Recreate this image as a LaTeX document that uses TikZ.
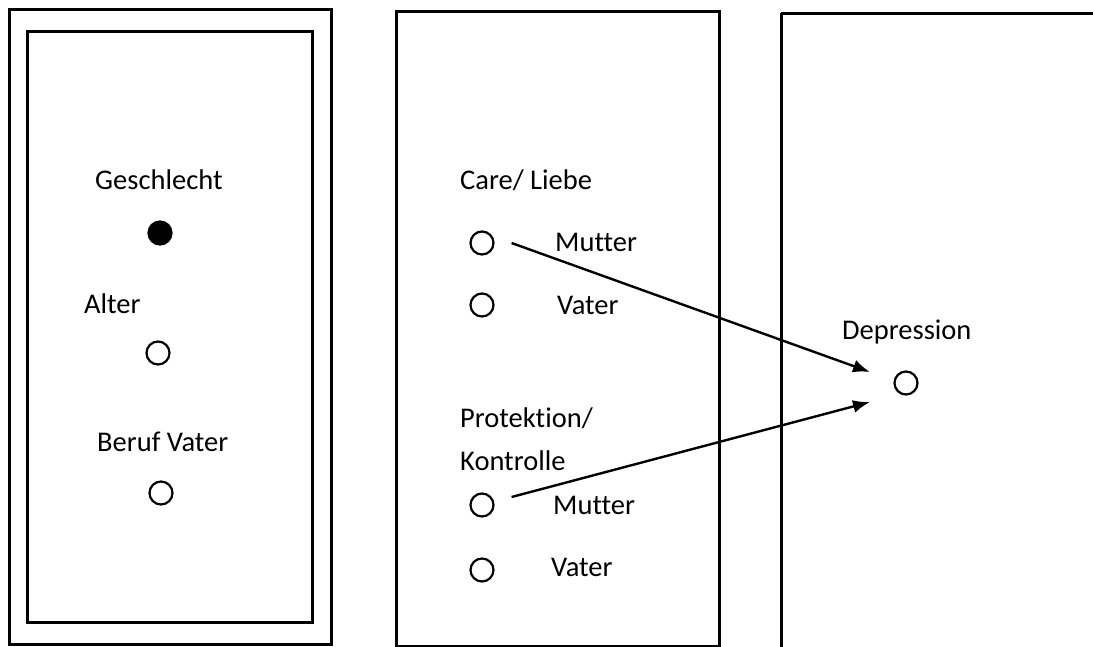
\documentclass[tikz,border=0pt]{standalone}
\usepackage{fontspec}
\setmainfont{Carlito}[Ligatures=NoCommon]
\usetikzlibrary{arrows.meta}

\tikzset{
  frame/.style={draw, line width=3pt},
  item/.style={circle, draw, line width=2.2pt, minimum size=23pt, inner sep=0pt},
  lbl/.style={anchor=base west, inner sep=0pt, font=\fontsize{28.5}{43}\selectfont},
  arr/.style={-{Latex[length=17pt,width=13pt]}, line width=2.4pt}
}

\begin{document}
\begin{tikzpicture}[x=1pt, y=-1pt]
\useasboundingbox (0,0) rectangle (1093,646);
\clip (0,0) rectangle (1093,646);
% covariates
\draw[frame] (9,9) rectangle (331,644);
\draw[frame] (27,31) rectangle (312,622);
\node[lbl] (geschlecht) at (95,189) {Geschlecht};
\node[item, fill=black] (g) at (160,233) {};
\node[lbl] (alter) at (84,313) {Alter};
\node[item] (a) at (158,353) {};
\node[lbl] (beruf) at (97,451) {Beruf Vater};
\node[item] (b) at (161,493) {};
% parenting
\draw[frame] (396,11) rectangle (719,646);
\node[lbl] (care) at (460,189) {Care/ Liebe};
\node[item] (cm) at (482,243) {};
\node[lbl] (cmtxt) at (555,251) {Mutter};
\node[item] (cv) at (482,305) {};
\node[lbl] (cvtxt) at (557,314) {Vater};
\node[lbl, align=left] (prot) at (460,470) {Protektion/\\Kontrolle};
\node[item] (pm) at (482,505) {};
\node[lbl] (pmtxt) at (553,514) {Mutter};
\node[item] (pv) at (482,570) {};
\node[lbl] (pvtxt) at (551,576) {Vater};
% outcome
\draw[frame] (781,13) -- (1100,13);
\draw[frame] (781,13) -- (781,660);
\node[lbl] (deptxt) at (842,339) {Depression};
\node[item] (dep) at (906,383) {};
\coordinate (tip1) at (870,372);
\coordinate (tip2) at (870,402);
\draw[arr] ([xshift=17pt]cm.east) -- (tip1);
\draw[arr] ([xshift=17pt,yshift=8pt]pm.east) -- (tip2);
\end{tikzpicture}
\end{document}
